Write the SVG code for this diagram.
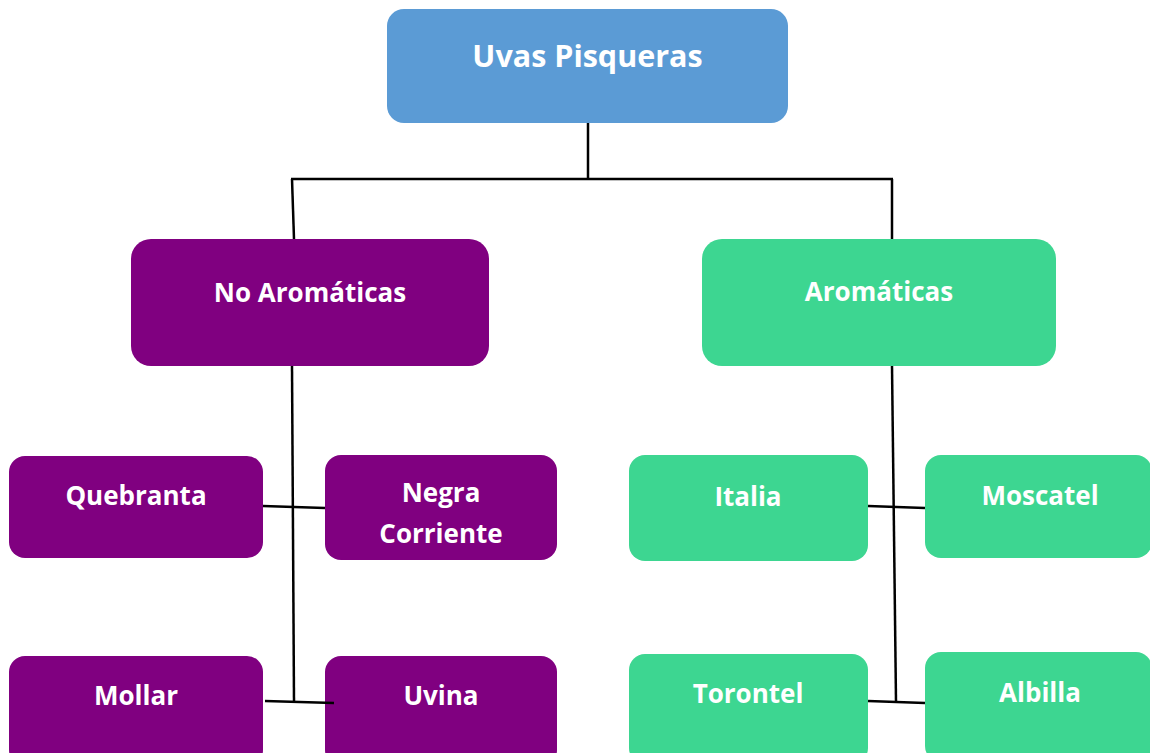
<svg xmlns="http://www.w3.org/2000/svg" width="1150" height="753" viewBox="0 0 1150 753">
<style>
.lbl{font-family:"Open Sans","Noto Sans","Liberation Sans",sans-serif;font-weight:bold;fill:#ffffff;text-anchor:middle;font-size:26px}
.top{font-size:30.5px}
.blue{fill:#5B9BD5}
.purple{fill:#800080}
.green{fill:#3DD691}
.conn{stroke:#000000;stroke-width:2.5;fill:none}
</style>
<rect width="1150" height="753" fill="#ffffff"/>
<g id="n-root"><rect class="blue" x="387" y="9" width="401" height="114" rx="17"/><text class="lbl top" x="587.5" y="67">Uvas Pisqueras</text></g>
<g id="n-noarom"><rect class="purple" x="131" y="239" width="358" height="127" rx="20"/><text class="lbl" x="310" y="302">No Aromáticas</text></g>
<g id="n-arom"><rect class="green" x="702" y="239" width="354" height="127" rx="20"/><text class="lbl" x="879" y="301">Aromáticas</text></g>
<g id="n-quebranta"><rect class="purple" x="9" y="456" width="254" height="102" rx="16"/><text class="lbl" x="136" y="505">Quebranta</text></g>
<g id="n-negra"><rect class="purple" x="325" y="455" width="232" height="105" rx="16"/><text class="lbl" x="441" y="502">Negra</text><text class="lbl" x="441" y="543">Corriente</text></g>
<g id="n-italia"><rect class="green" x="629" y="455" width="239" height="106" rx="16"/><text class="lbl" x="748" y="506">Italia</text></g>
<g id="n-moscatel"><rect class="green" x="925" y="455" width="227" height="103" rx="16"/><text class="lbl" x="1040" y="505">Moscatel</text></g>
<g id="n-mollar"><rect class="purple" x="9" y="656" width="254" height="110" rx="16"/><text class="lbl" x="136" y="705">Mollar</text></g>
<g id="n-uvina"><rect class="purple" x="325" y="656" width="232" height="110" rx="16"/><text class="lbl" x="441" y="705">Uvina</text></g>
<g id="n-torontel"><rect class="green" x="629" y="654" width="239" height="110" rx="16"/><text class="lbl" x="748" y="703">Torontel</text></g>
<g id="n-albilla"><rect class="green" x="925" y="652" width="227" height="110" rx="16"/><text class="lbl" x="1040" y="702">Albilla</text></g>
<g id="connectors">
<line class="conn" x1="588" y1="123" x2="588" y2="179"/>
<line class="conn" x1="291" y1="179" x2="893" y2="179"/>
<line class="conn" x1="292" y1="179" x2="294" y2="239"/>
<line class="conn" x1="892" y1="179" x2="892" y2="239"/>
<line class="conn" x1="292" y1="366" x2="294" y2="701"/>
<line class="conn" x1="263" y1="506" x2="325" y2="508"/>
<line class="conn" x1="265" y1="701" x2="334" y2="703"/>
<line class="conn" x1="892" y1="366" x2="896" y2="701"/>
<line class="conn" x1="868" y1="506" x2="925" y2="508"/>
<line class="conn" x1="868" y1="701" x2="925" y2="703"/>
</g>
</svg>
